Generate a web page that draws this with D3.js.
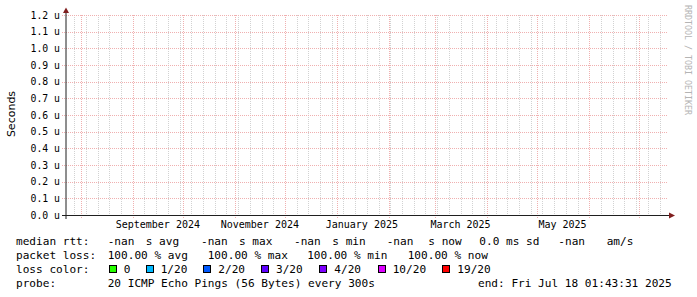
<!DOCTYPE html>
<html>
<head>
<meta charset="utf-8">
<script src="https://cdn.jsdelivr.net/npm/d3@7"></script>
<style>
  body { margin: 0; background: #fff; }
  text { font-family: "DejaVu Sans Mono", monospace; }
</style>
</head>
<body>
<script>
// 数据
const startTime = new Date(Date.UTC(2024, 6, 23, 1, 43, 31));
const endTime = new Date(Date.UTC(2025, 6, 18, 1, 43, 31));
const yTicks = [0, 0.1, 0.2, 0.3, 0.4, 0.5, 0.6, 0.7, 0.8, 0.9, 1.0, 1.1, 1.2];
const monthLabels = ["2024-09-01", "2024-11-01", "2025-01-01", "2025-03-01", "2025-05-01"];
const rttValues = ["-nan", "-nan", "-nan", "-nan"];
const rttNames = ["avg", "max", "min", "now"];
const rttSd = "0.0";
const rttAmps = "-nan";
const lossValues = ["100.00", "100.00", "100.00", "100.00"];
const lossNames = ["avg", "max", "min", "now"];
const lossLabels = ["0", "1/20", "2/20", "3/20", "4/20", "10/20", "19/20"];
const lossColors = ["#26ff00", "#00b8ff", "#0059ff", "#5e00ff", "#7e00ff", "#dd00ff", "#ff0000"];
const probeText = "20 ICMP Echo Pings (56 Bytes) every 300s";
const endText = "end: Fri Jul 18 01:43:31 2025";

// 画布
const width = 697;
const height = 297;
const svg = d3.select('body').append('svg')
    .attr('width', width)
    .attr('height', height);
svg.append('rect').attr('width', width).attr('height', height).attr('fill', '#fff');

const x = d3.scaleUtc().domain([startTime, endTime]).range([66, 668]);
const y = d3.scaleLinear().domain([0, 1.2]).range([215, 15]);
const px = v => Math.round(v) + 0.5;

const grid = svg.append('g').attr('id', 'grid_g');
// 次网格：每周（周日）
grid.selectAll('line.minor')
    .data(d3.utcSunday.range(startTime, endTime))
    .enter().append('line')
    .attr('x1', d => px(x(d))).attr('x2', d => px(x(d)))
    .attr('y1', 15).attr('y2', 215)
    .attr('stroke', '#d2d2d2')
    .attr('stroke-dasharray', '1,1');
// 主网格：每月
grid.selectAll('line.major')
    .data(d3.utcMonth.range(startTime, endTime))
    .enter().append('line')
    .attr('x1', d => px(x(d))).attr('x2', d => px(x(d)))
    .attr('y1', 15).attr('y2', 219)
    .attr('stroke', '#f0b0b0')
    .attr('stroke-dasharray', '1,1');
// 水平网格
grid.selectAll('line.h')
    .data(yTicks)
    .enter().append('line')
    .attr('x1', 62).attr('x2', 668)
    .attr('y1', d => px(y(d))).attr('y2', d => px(y(d)))
    .attr('stroke', '#f0b0b0')
    .attr('stroke-dasharray', '1,1');

// 坐标轴
svg.append('line')
    .attr('x1', 62).attr('x2', 671)
    .attr('y1', 215.5).attr('y2', 215.5)
    .attr('stroke', '#1f1f1f');
svg.append('line')
    .attr('x1', 66).attr('x2', 66)
    .attr('y1', 219).attr('y2', 11)
    .attr('stroke', '#1f1f1f');
svg.append('path')
    .attr('d', 'M66,7.5 L63,13 L69,13 Z')
    .attr('fill', '#801f1f');
svg.append('path')
    .attr('d', 'M675,215.5 L669,212.5 L669,218.5 Z')
    .attr('fill', '#801f1f');

// y 轴刻度
svg.append('g').selectAll('text')
    .data(yTicks).enter().append('text')
    .attr('x', 60)
    .attr('y', d => y(d) + 3.5)
    .attr('text-anchor', 'end')
    .attr('font-size', '9.8px')
    .attr('fill', '#000')
    .text(d => d.toFixed(1) + ' u');

// x 轴标签（月份起点 + 15 天居中）
svg.append('g').selectAll('text')
    .data(monthLabels).enter().append('text')
    .attr('x', d => x(d3.utcDay.offset(new Date(d + 'T00:00:00Z'), 15)))
    .attr('y', 228)
    .attr('text-anchor', 'middle')
    .attr('font-size', '10px')
    .attr('fill', '#000')
    .text(d => d3.utcFormat('%B %Y')(new Date(d + 'T00:00:00Z')));

// 纵轴标题
svg.append('text')
    .attr('transform', 'translate(14.5,114) rotate(-90)')
    .attr('text-anchor', 'middle')
    .style('font-family', '"DejaVu Sans", sans-serif')
    .attr('font-size', '11px')
    .text('Seconds');

// 水印
svg.append('text')
    .attr('transform', 'translate(685,5) rotate(90)')
    .attr('font-size', '8.3px')
    .attr('fill', '#b4b4b4')
    .text('RRDTOOL / TOBI OETIKER');

// 图例
const legend = svg.append('g').attr('font-size', '11.1px').attr('fill', '#000');
const rows = [245.3, 259.1, 272.9, 286.7];
function put(xp, row, t) {
    legend.append('text').attr('x', xp).attr('y', rows[row])
        .attr('xml:space', 'preserve').text(t);
}

put(16, 0, 'median rtt:');
const rttValX = [107.7, 201, 294, 386.7];
const rttNameX = [145.7, 239, 332.3, 428.3];
rttValues.forEach((v, i) => {
    put(rttValX[i], 0, v);
    put(rttNameX[i], 0, 's ' + rttNames[i]);
});
put(479.3, 0, rttSd + ' ms sd');
put(558.3, 0, rttAmps);
put(606.7, 0, 'am/s');

put(16, 1, 'packet loss:');
const lossValX = [107.7, 207.7, 307.2, 407.7];
lossValues.forEach((v, i) => put(lossValX[i], 1, v + ' % ' + lossNames[i]));

put(16, 2, 'loss color:');
const boxX = [108.7, 145.7, 203.3, 261, 319.3, 377.7, 442.3];
lossLabels.forEach((l, i) => {
    legend.append('rect')
        .attr('x', Math.round(boxX[i]) + 0.5).attr('y', 265.5)
        .attr('width', 7).attr('height', 7)
        .attr('fill', lossColors[i])
        .attr('stroke', '#000');
    put(boxX[i] + 15, 2, l);
});

put(16, 3, 'probe:');
put(107.7, 3, probeText);
put(478, 3, endText);
</script>
</body>
</html>
